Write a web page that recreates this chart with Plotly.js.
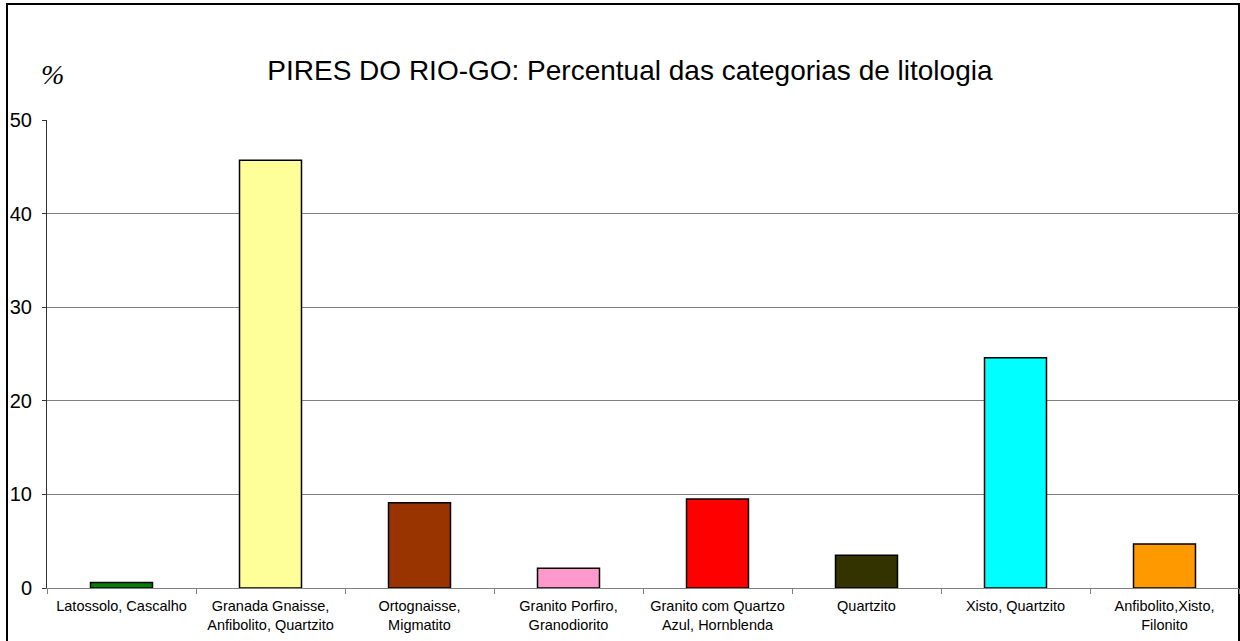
<!DOCTYPE html>
<html>
<head>
<meta charset="utf-8">
<script src="https://cdn.plot.ly/plotly-3.0.1.min.js"></script>
<style>html,body{margin:0;padding:0;background:#fff;}#chart{width:1240px;height:641px;}</style>
</head>
<body>
<div id="chart"></div>
<script>
const categories = [
  "Latossolo, Cascalho",
  "Granada Gnaisse,<br>Anfibolito, Quartzito",
  "Ortognaisse,<br>Migmatito",
  "Granito Porfiro,<br>Granodiorito",
  "Granito com Quartzo<br>Azul, Hornblenda",
  "Quartzito",
  "Xisto, Quartzito",
  "Anfibolito,Xisto,<br>Filonito"
];
const percentages = [0.6, 45.7, 9.1, 2.1, 9.5, 3.5, 24.6, 4.7];
const barColors = ["#008000", "#FFFF99", "#993300", "#FF99CC", "#FF0000", "#333300", "#00FFFF", "#FF9900"];
const yTicks = [0, 10, 20, 30, 40, 50];

const trace = {
  type: "bar",
  x: categories,
  y: percentages,
  marker: { color: barColors, line: { color: "#000", width: 1.5 } },
  hoverinfo: "x+y"
};

const layout = {
  width: 1240, height: 641,
  margin: { l: 47, r: 1, t: 120, b: 53, pad: 0 },
  paper_bgcolor: "#fff", plot_bgcolor: "#fff",
  showlegend: false,
  bargap: 0.584,
  font: { family: "Liberation Sans, Arial, sans-serif", color: "#000" },
  title: {
    text: "PIRES DO RIO-GO: Percentual das categorias de litologia",
    font: { size: 28, family: "Liberation Sans, Arial, sans-serif", color: "#000" },
    x: 0.508, xanchor: "center", y: 0.89, yanchor: "middle"
  },
  xaxis: {
    type: "category",
    tickson: "boundaries",
    ticks: "outside", ticklen: 5, tickcolor: "#808080",
    showline: true, linecolor: "#808080", linewidth: 1,
    showgrid: false, zeroline: false,
    ticklabelstandoff: 5,
    tickfont: { size: 14.5, family: "Liberation Sans, Arial, sans-serif" },
    automargin: false
  },
  yaxis: {
    range: [0, 50],
    tickvals: yTicks,
    ticks: "outside", ticklen: 4, tickcolor: "#333",
    showline: true, linecolor: "#333", linewidth: 1,
    showgrid: true, gridcolor: "#808080", gridwidth: 1,
    zeroline: false,
    ticklabelstandoff: 6,
    tickfont: { size: 20, family: "Liberation Sans, Arial, sans-serif" },
    automargin: false
  },
  annotations: [{
    text: "%", xref: "paper", yref: "paper",
    x: (52 - 47) / 1192, y: (588 - 75) / 468,
    xanchor: "center", yanchor: "middle", showarrow: false,
    font: { size: 28, family: "Liberation Serif, Times New Roman, serif", style: "italic" }
  }],
  shapes: [{
    type: "rect", xref: "paper", yref: "paper",
    x0: (7 - 47) / 1192, x1: (1239 - 47) / 1192,
    y0: (588 - 660) / 468, y1: (588 - 4) / 468,
    line: { color: "#000", width: 2 }, fillcolor: "rgba(0,0,0,0)", layer: "below"
  }]
};

Plotly.newPlot("chart", [trace], layout, { staticPlot: true, displayModeBar: false });
</script>
</body>
</html>
